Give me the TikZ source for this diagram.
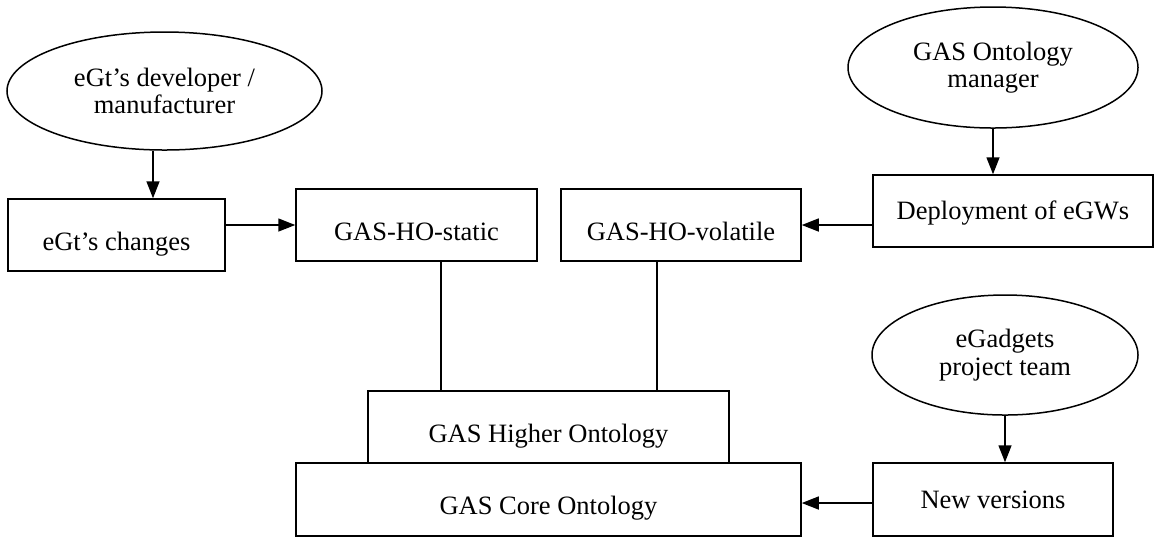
\documentclass[tikz,border=0pt]{standalone}
\usepackage{fontspec}
\setmainfont{Liberation Serif}
\usepackage{tikz}
\usetikzlibrary{shapes.geometric,arrows.meta}

\begin{document}
\begin{tikzpicture}[x=0.5pt,y=0.5pt,yscale=-1,xscale=1,
  every node/.style={font=\fontsize{13.25}{13.7}\selectfont},
  actor/.style={draw,ellipse,line width=0.75pt,inner sep=0pt,align=center},
  stage/.style={draw,rectangle,line width=0.75pt,inner sep=0pt,text height=8.8pt,text depth=0pt},
  sunk/.style={text height=15.3pt},
  arr/.style={line width=0.75pt,-{Triangle[length=8.5pt,width=6.5pt]}},
  link/.style={line width=0.75pt}]
\useasboundingbox (0,0) rectangle (1155,538);

%Shape: Ellipse
\node [actor,minimum width=157.5pt,minimum height=59pt] (dev) at (164.5,91) {eGt’s developer /\\manufacturer};
%Shape: Ellipse
\node [actor,minimum width=145pt,minimum height=60.5pt] (mgr) at (993,67.5) {GAS Ontology\\manager};
%Shape: Ellipse
\node [actor,minimum width=133pt,minimum height=60pt] (team) at (1005,355) {eGadgets\\project team};

%Shape: Rectangle
\node [stage,sunk,minimum width=108.5pt,minimum height=36pt] (changes) at (116.5,235) {eGt’s changes};
%Shape: Rectangle
\node [stage,sunk,minimum width=120.5pt,minimum height=36pt] (static) at (416.5,225) {GAS-HO-static};
%Shape: Rectangle
\node [stage,sunk,minimum width=120pt,minimum height=36pt] (volatile) at (681,225) {GAS-HO-volatile};
%Shape: Rectangle
\node [stage,minimum width=140pt,minimum height=36pt] (deploy) at (1013,211) {Deployment of eGWs};
%Shape: Rectangle
\node [stage,sunk,minimum width=180.5pt,minimum height=36pt] (higher) at (548.5,427) {GAS Higher Ontology};
%Shape: Rectangle
\node [stage,sunk,minimum width=252.5pt,minimum height=36.5pt] (core) at (548.5,499.5) {GAS Core Ontology};
%Shape: Rectangle
\node [stage,minimum width=120pt,minimum height=36.5pt] (newver) at (993,499.5) {New versions};

%Straight Lines
\draw [arr] ([xshift=-5.75pt]dev.south) -- ([xshift=18.25pt]changes.north);
\draw [arr] (changes.east |- static.west) -- (static.west);
\draw [arr] (mgr.south) -- (mgr.south |- deploy.north);
\draw [arr] (deploy.west |- volatile.east) -- (volatile.east);
\draw [link] ([xshift=12.25pt]static.south) -- ([xshift=-53.75pt]higher.north);
\draw [link] ([xshift=-12pt]volatile.south) -- ([xshift=54.25pt]higher.north);
\draw [arr] (team.south) -- (team.south |- newver.north);
\draw [arr] ([yshift=1.75pt]newver.west) -- ([yshift=1.75pt]core.east);

\end{tikzpicture}
\end{document}
